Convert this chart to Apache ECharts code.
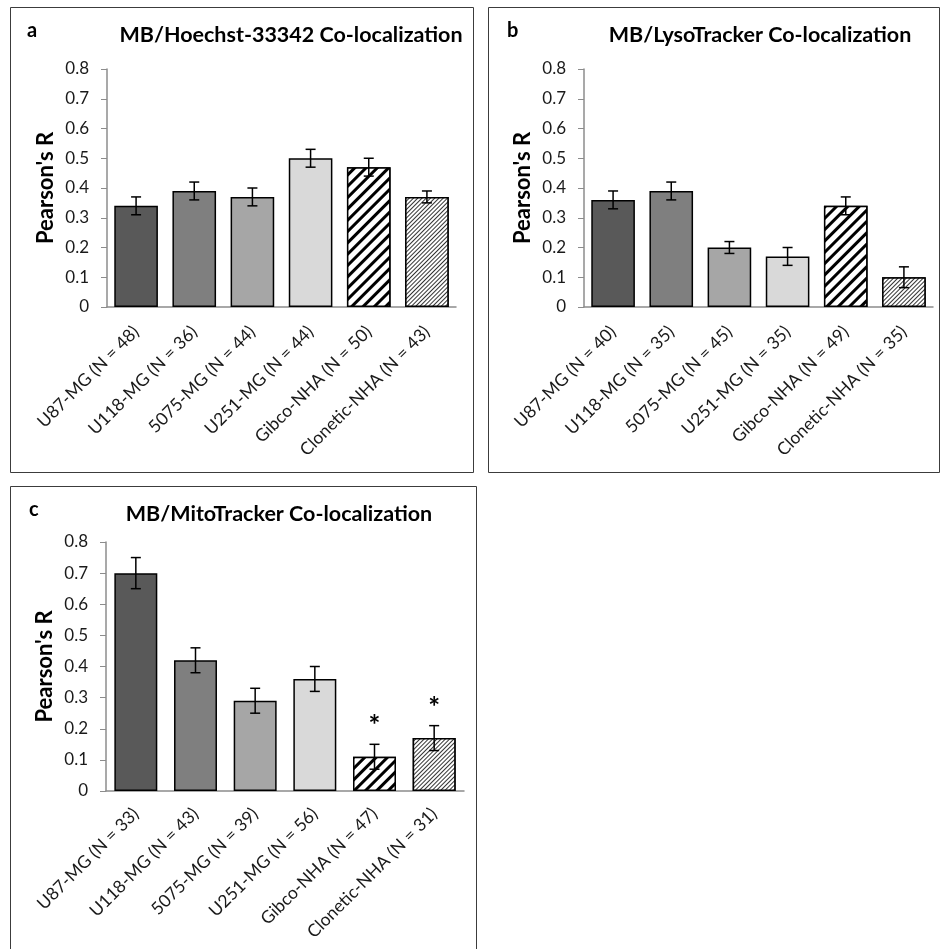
<!DOCTYPE html>
<html>
<head>
<meta charset="utf-8">
<script src="https://cdn.jsdelivr.net/npm/echarts@6/dist/echarts.min.js"></script>
<style>
html,body{margin:0;padding:0;background:#fff;}
#chart{width:942px;height:949px;}
</style>
</head>
<body>
<div id="chart"></div>
<script>
// ---- Data ----
const categoriesA = ['U87-MG (N = 48)', 'U118-MG (N = 36)', '5075-MG (N = 44)', 'U251-MG (N = 44)', 'Gibco-NHA (N = 50)', 'Clonetic-NHA (N = 43)'];
const valuesA = [0.34, 0.39, 0.37, 0.50, 0.47, 0.37];
const errorsA = [0.03, 0.03, 0.03, 0.03, 0.03, 0.02];

const categoriesB = ['U87-MG (N = 40)', 'U118-MG (N = 35)', '5075-MG (N = 45)', 'U251-MG (N = 35)', 'Gibco-NHA (N = 49)', 'Clonetic-NHA (N = 35)'];
const valuesB = [0.36, 0.39, 0.20, 0.17, 0.34, 0.10];
const errorsB = [0.03, 0.03, 0.02, 0.03, 0.03, 0.035];

const categoriesC = ['U87-MG (N = 33)', 'U118-MG (N = 43)', '5075-MG (N = 39)', 'U251-MG (N = 56)', 'Gibco-NHA (N = 47)', 'Clonetic-NHA (N = 31)'];
const valuesC = [0.70, 0.42, 0.29, 0.36, 0.11, 0.17];
const errorsC = [0.05, 0.04, 0.04, 0.04, 0.04, 0.04];
const starsC = ['', '', '', '', '*', '*'];

const panelTitles = ['MB/Hoechst-33342 Co-localization', 'MB/LysoTracker Co-localization', 'MB/MitoTracker Co-localization'];
const panelLetters = ['a', 'b', 'c'];
const yAxisName = "Pearson's R";
const yMin = 0, yMax = 0.8, yStep = 0.1;

// ---- Styles ----
const FONT = 'Lato';
const TXT = '#1a1a1a';
const AXIS = '#8c8c8c';
const barStyles = [
  { color: '#595959' },
  { color: '#7f7f7f' },
  { color: '#a6a6a6' },
  { color: '#d9d9d9' },
  { color: '#ffffff', decal: { symbol: 'rect', symbolSize: 1, dashArrayX: [1, 0], dashArrayY: [3, 4.5], rotation: -Math.PI / 4, color: '#000000', backgroundColor: '#ffffff' } },
  { color: '#ffffff', decal: { symbol: 'rect', symbolSize: 1, dashArrayX: [1, 0], dashArrayY: [1, 1.6], rotation: -Math.PI / 4, color: '#333333', backgroundColor: '#ffffff' } }
];

function barData(vals) {
  return vals.map((v, i) => ({
    value: v,
    itemStyle: Object.assign({ borderColor: '#000', borderWidth: 1.5 }, barStyles[i])
  }));
}

function errData(vals, errs) {
  return vals.map((v, i) => [i, v, errs[i]]);
}

function errRender(params, api) {
  const i = api.value(0), v = api.value(1), e = api.value(2);
  const top = api.coord([i, v + e]);
  const bot = api.coord([i, v - e]);
  const hw = 5;
  const st = { stroke: '#000', lineWidth: 1.5 };
  const children = [
    { type: 'line', shape: { x1: top[0], y1: top[1], x2: bot[0], y2: bot[1] }, style: st },
    { type: 'line', shape: { x1: top[0] - hw, y1: top[1], x2: top[0] + hw, y2: top[1] }, style: st },
    { type: 'line', shape: { x1: bot[0] - hw, y1: bot[1], x2: bot[0] + hw, y2: bot[1] }, style: st }
  ];
  const s = params.seriesId === 'errC' ? starsC[params.dataIndex] : '';
  if (s) {
    children.push({ type: 'text', x: top[0], y: top[1] - 4, style: { text: s, fill: '#000', font: 'bold 28px ' + FONT, align: 'center', verticalAlign: 'bottom' } });
  }
  return { type: 'group', children };
}

const grids = [
  { left: 107, top: 69, width: 349, height: 238 },
  { left: 584, top: 69, width: 349, height: 238 },
  { left: 106, top: 542, width: 358, height: 249 }
];
const cats = [categoriesA, categoriesB, categoriesC];

const xAxes = cats.map((c, k) => ({
  type: 'category', gridIndex: k, data: c,
  axisLine: { lineStyle: { color: AXIS, width: 1.5 } },
  axisTick: { show: false },
  axisLabel: { rotate: 45, interval: 0, margin: k === 2 ? 20 : 22, color: TXT, fontSize: 17.5, fontFamily: FONT }
}));
const yAxes = cats.map((c, k) => ({
  type: 'value', gridIndex: k, min: yMin, max: yMax, interval: yStep,
  name: yAxisName, nameLocation: 'middle', nameGap: 50,
  nameTextStyle: { color: '#000', fontSize: 22, fontWeight: 'bold', fontFamily: FONT },
  axisLine: { show: true, lineStyle: { color: AXIS, width: 1.5 } },
  axisTick: { show: true, length: 6, lineStyle: { color: AXIS } },
  splitLine: { show: false },
  axisLabel: { margin: 18, color: TXT, fontSize: 17, fontFamily: FONT }
}));

const titles = [
  { text: panelTitles[0], left: 286, top: 19, textAlign: 'center' },
  { text: panelTitles[1], left: 755, top: 19, textAlign: 'center' },
  { text: panelTitles[2], left: 274, top: 498, textAlign: 'center' },
  { text: panelLetters[0], left: 22, top: 16 },
  { text: panelLetters[1], left: 502, top: 16 },
  { text: panelLetters[2], left: 24, top: 495 }
].map(t => Object.assign(t, { textStyle: { fontFamily: FONT, fontWeight: 'bold', fontSize: t.text.length > 1 ? 21.5 : 20, color: '#000' } }));

const chart = echarts.init(document.getElementById('chart'), null, { renderer: 'canvas' });
chart.setOption({
  backgroundColor: '#fff',
  animation: false,
  title: titles,
  grid: grids,
  xAxis: xAxes,
  yAxis: yAxes,
  graphic: [
    { type: 'rect', shape: { x: 10.5, y: 7.5, width: 463, height: 465 }, style: { fill: 'none', stroke: '#3c3c3c', lineWidth: 1 } },
    { type: 'rect', shape: { x: 488.5, y: 7.5, width: 451, height: 465 }, style: { fill: 'none', stroke: '#3c3c3c', lineWidth: 1 } },
    { type: 'rect', shape: { x: 10.5, y: 486.5, width: 466, height: 470 }, style: { fill: 'none', stroke: '#3c3c3c', lineWidth: 1 } }
  ],
  series: [
    { type: 'bar', xAxisIndex: 0, yAxisIndex: 0, data: barData(valuesA), barWidth: '75%' },
    { type: 'bar', xAxisIndex: 1, yAxisIndex: 1, data: barData(valuesB), barWidth: '75%' },
    { type: 'bar', xAxisIndex: 2, yAxisIndex: 2, data: barData(valuesC), barWidth: '72%' },
    { type: 'custom', id: 'errA', xAxisIndex: 0, yAxisIndex: 0, data: errData(valuesA, errorsA), renderItem: errRender, encode: { x: 0, y: 1 }, z: 5 },
    { type: 'custom', id: 'errB', xAxisIndex: 1, yAxisIndex: 1, data: errData(valuesB, errorsB), renderItem: errRender, encode: { x: 0, y: 1 }, z: 5 },
    { type: 'custom', id: 'errC', xAxisIndex: 2, yAxisIndex: 2, data: errData(valuesC, errorsC), renderItem: errRender, encode: { x: 0, y: 1 }, z: 5 }
  ]
});
</script>
</body>
</html>
